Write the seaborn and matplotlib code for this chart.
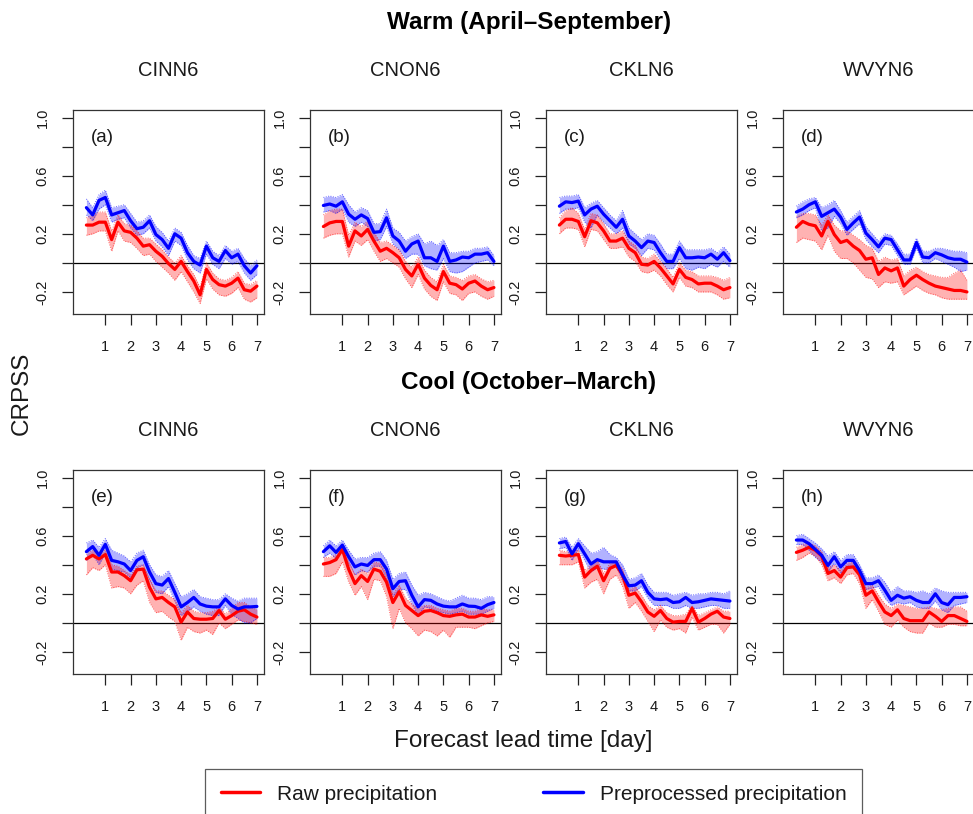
import numpy as np
import pandas as pd
import matplotlib
matplotlib.use("Agg")
import matplotlib.pyplot as plt
import seaborn as sns
from matplotlib.lines import Line2D

# ---------------- data ----------------
lead_days = [0.25 * (i + 1) for i in range(28)]
stations = ["CINN6", "CNON6", "CKLN6", "WVYN6"]
panel_labels = ["(a)", "(b)", "(c)", "(d)", "(e)", "(f)", "(g)", "(h)"]
season_titles = ["Warm (April\u2013September)", "Cool (October\u2013March)"]
series_names = ["Raw precipitation", "Preprocessed precipitation"]

# Warm season
raw_a = [0.26,0.26,0.28,0.28,0.16,0.28,0.22,0.21,0.17,0.115,0.125,0.08,0.045,-0.005,-0.045,0.01,-0.06,-0.125,-0.22,-0.045,-0.115,-0.15,-0.16,-0.14,-0.105,-0.185,-0.195,-0.16]
raw_a_hi = [0.31,0.33,0.35,0.35,0.22,0.33,0.27,0.26,0.22,0.17,0.17,0.13,0.09,0.04,0.00,0.05,-0.02,-0.08,-0.17,0.00,-0.07,-0.11,-0.12,-0.10,-0.06,-0.14,-0.15,-0.12]
raw_a_lo = [0.19,0.20,0.22,0.22,0.08,0.22,0.15,0.14,0.10,0.05,0.06,0.01,-0.03,-0.07,-0.12,-0.06,-0.13,-0.20,-0.28,-0.11,-0.18,-0.22,-0.23,-0.21,-0.17,-0.25,-0.27,-0.24]
pre_a = [0.38,0.33,0.43,0.45,0.33,0.345,0.36,0.29,0.235,0.245,0.29,0.195,0.16,0.10,0.20,0.17,0.07,0.01,-0.015,0.115,0.035,0.01,0.085,0.035,0.06,-0.02,-0.07,-0.02]
pre_a_hi = [0.44,0.38,0.47,0.50,0.38,0.39,0.40,0.34,0.28,0.29,0.33,0.25,0.21,0.15,0.24,0.21,0.12,0.05,0.03,0.15,0.08,0.05,0.12,0.08,0.10,0.03,-0.02,0.02]
pre_a_lo = [0.33,0.29,0.37,0.40,0.28,0.30,0.31,0.24,0.19,0.20,0.24,0.15,0.11,0.05,0.15,0.12,0.02,-0.04,-0.07,0.06,-0.01,-0.04,0.03,-0.01,0.01,-0.07,-0.12,-0.08]

raw_b = [0.25,0.275,0.285,0.285,0.115,0.22,0.185,0.23,0.15,0.08,0.10,0.07,0.035,-0.045,-0.09,-0.01,-0.105,-0.155,-0.185,-0.06,-0.14,-0.15,-0.18,-0.14,-0.125,-0.16,-0.185,-0.17]
raw_b_hi = [0.33,0.36,0.37,0.37,0.19,0.28,0.25,0.29,0.21,0.14,0.15,0.12,0.09,0.01,-0.03,0.04,-0.05,-0.10,-0.13,-0.01,-0.09,-0.10,-0.12,-0.09,-0.08,-0.11,-0.13,-0.12]
raw_b_lo = [0.17,0.19,0.20,0.20,0.04,0.15,0.12,0.16,0.08,0.01,0.03,0.00,-0.03,-0.11,-0.17,-0.08,-0.18,-0.23,-0.26,-0.13,-0.21,-0.22,-0.26,-0.21,-0.20,-0.23,-0.25,-0.23]
pre_b = [0.395,0.405,0.39,0.42,0.335,0.30,0.33,0.305,0.21,0.215,0.31,0.185,0.15,0.08,0.13,0.15,0.035,0.035,0.01,0.115,0.01,0.02,0.04,0.035,0.06,0.06,0.07,0.01]
pre_b_hi = [0.45,0.46,0.45,0.47,0.40,0.35,0.38,0.36,0.27,0.27,0.37,0.24,0.21,0.15,0.18,0.20,0.13,0.15,0.12,0.16,0.07,0.07,0.08,0.08,0.10,0.10,0.11,0.05]
pre_b_lo = [0.35,0.36,0.34,0.37,0.28,0.25,0.28,0.25,0.15,0.16,0.25,0.13,0.09,0.03,0.06,0.06,-0.02,-0.04,-0.05,0.03,-0.06,-0.07,-0.06,-0.03,0.00,0.01,0.02,-0.02]

raw_c = [0.26,0.30,0.30,0.285,0.18,0.29,0.275,0.22,0.15,0.15,0.17,0.10,0.07,-0.01,-0.015,0.01,-0.035,-0.09,-0.145,-0.045,-0.10,-0.115,-0.145,-0.14,-0.14,-0.16,-0.185,-0.17]
raw_c_hi = [0.31,0.36,0.38,0.34,0.23,0.34,0.33,0.27,0.20,0.20,0.22,0.15,0.12,0.04,0.03,0.06,0.01,-0.04,-0.10,0.00,-0.05,-0.06,-0.09,-0.09,-0.09,-0.10,-0.12,-0.10]
raw_c_lo = [0.20,0.24,0.24,0.23,0.11,0.23,0.22,0.16,0.10,0.10,0.11,0.04,0.01,-0.06,-0.07,-0.05,-0.09,-0.15,-0.20,-0.10,-0.16,-0.17,-0.20,-0.20,-0.20,-0.22,-0.25,-0.24]
pre_c = [0.39,0.42,0.415,0.425,0.33,0.37,0.39,0.335,0.29,0.245,0.30,0.185,0.15,0.105,0.15,0.14,0.07,0.01,0.01,0.105,0.035,0.035,0.04,0.035,0.06,0.025,0.07,0.015]
pre_c_hi = [0.45,0.46,0.46,0.47,0.38,0.41,0.43,0.38,0.33,0.29,0.36,0.24,0.20,0.16,0.20,0.19,0.13,0.06,0.06,0.15,0.09,0.09,0.09,0.09,0.10,0.07,0.11,0.06]
pre_c_lo = [0.34,0.37,0.37,0.38,0.28,0.24,0.33,0.28,0.24,0.20,0.24,0.13,0.10,0.05,0.10,0.09,0.02,-0.04,-0.04,0.03,-0.04,-0.05,-0.03,-0.04,-0.01,-0.03,0.01,-0.03]

raw_d = [0.245,0.285,0.265,0.255,0.185,0.285,0.195,0.14,0.155,0.115,0.085,0.025,0.035,-0.08,-0.035,-0.055,-0.035,-0.16,-0.115,-0.085,-0.115,-0.14,-0.16,-0.17,-0.18,-0.19,-0.19,-0.20]
raw_d_hi = [0.32,0.34,0.34,0.33,0.26,0.33,0.26,0.22,0.22,0.19,0.16,0.12,0.10,0.01,0.04,0.02,0.03,-0.09,-0.05,-0.03,-0.06,-0.08,-0.09,-0.10,-0.10,-0.07,-0.05,-0.12]
raw_d_lo = [0.14,0.17,0.16,0.15,0.09,0.19,0.08,0.03,0.03,0.00,-0.05,-0.10,-0.11,-0.17,-0.13,-0.14,-0.13,-0.22,-0.19,-0.16,-0.19,-0.21,-0.22,-0.24,-0.25,-0.25,-0.25,-0.25]
pre_d = [0.35,0.37,0.40,0.42,0.32,0.345,0.37,0.315,0.23,0.275,0.315,0.205,0.16,0.11,0.17,0.16,0.09,0.02,0.02,0.14,0.04,0.035,0.07,0.055,0.035,0.025,0.025,0.005]
pre_d_hi = [0.39,0.42,0.44,0.45,0.38,0.40,0.43,0.36,0.28,0.32,0.36,0.25,0.20,0.15,0.20,0.19,0.13,0.06,0.06,0.17,0.08,0.08,0.10,0.10,0.09,0.08,0.08,0.07]
pre_d_lo = [0.31,0.33,0.36,0.38,0.22,0.24,0.32,0.27,0.19,0.23,0.27,0.16,0.11,0.07,0.13,0.12,0.05,-0.01,-0.01,0.10,0.00,0.00,0.03,0.01,-0.01,-0.03,-0.06,-0.05]

# Cool season
raw_e = [0.44,0.465,0.44,0.47,0.35,0.35,0.325,0.29,0.365,0.37,0.245,0.165,0.175,0.14,0.11,0.005,0.075,0.03,0.025,0.025,0.03,0.085,0.025,0.05,0.08,0.09,0.06,0.04]
raw_e_hi = [0.47,0.50,0.47,0.50,0.40,0.39,0.36,0.33,0.39,0.40,0.30,0.22,0.22,0.19,0.16,0.07,0.12,0.08,0.07,0.07,0.08,0.11,0.06,0.10,0.14,0.14,0.11,0.09]
raw_e_lo = [0.33,0.38,0.36,0.40,0.24,0.25,0.24,0.20,0.26,0.29,0.14,0.07,0.08,0.04,0.01,-0.12,-0.03,-0.06,-0.07,-0.05,-0.08,0.00,-0.04,-0.01,0.02,0.01,0.00,-0.01]
pre_e = [0.49,0.525,0.465,0.54,0.43,0.42,0.405,0.36,0.43,0.455,0.35,0.27,0.26,0.305,0.21,0.11,0.14,0.175,0.13,0.115,0.11,0.11,0.165,0.12,0.095,0.11,0.11,0.113]
pre_e_hi = [0.55,0.57,0.52,0.58,0.50,0.48,0.46,0.42,0.48,0.50,0.40,0.33,0.32,0.36,0.27,0.18,0.20,0.23,0.18,0.17,0.16,0.16,0.20,0.17,0.15,0.17,0.17,0.17]
pre_e_lo = [0.43,0.47,0.40,0.48,0.37,0.36,0.35,0.31,0.38,0.40,0.29,0.21,0.20,0.25,0.15,0.05,0.08,0.11,0.08,0.06,0.05,0.05,0.12,0.06,0.03,0.00,0.00,0.03]

raw_f = [0.405,0.415,0.435,0.505,0.37,0.27,0.325,0.285,0.37,0.355,0.28,0.14,0.215,0.12,0.085,0.05,0.08,0.085,0.07,0.05,0.045,0.055,0.06,0.04,0.04,0.055,0.045,0.055]
raw_f_hi = [0.45,0.45,0.47,0.53,0.42,0.33,0.37,0.34,0.42,0.41,0.33,0.20,0.26,0.17,0.13,0.10,0.12,0.12,0.10,0.09,0.08,0.10,0.10,0.08,0.08,0.10,0.09,0.09]
raw_f_lo = [0.32,0.32,0.34,0.42,0.28,0.19,0.25,0.16,0.30,0.29,0.18,-0.04,0.10,0.00,-0.04,-0.09,-0.05,-0.06,-0.09,-0.05,-0.10,-0.03,-0.03,-0.03,-0.04,-0.02,0.00,0.01]
pre_f = [0.49,0.53,0.485,0.535,0.455,0.385,0.405,0.395,0.435,0.435,0.37,0.235,0.285,0.29,0.19,0.11,0.16,0.155,0.13,0.115,0.11,0.11,0.13,0.115,0.113,0.10,0.125,0.14]
pre_f_hi = [0.53,0.57,0.53,0.57,0.50,0.44,0.45,0.45,0.48,0.49,0.43,0.30,0.34,0.35,0.26,0.19,0.21,0.20,0.18,0.16,0.15,0.17,0.19,0.17,0.17,0.16,0.18,0.18]
pre_f_lo = [0.45,0.48,0.44,0.50,0.41,0.33,0.36,0.35,0.39,0.39,0.31,0.18,0.23,0.23,0.13,0.05,0.11,0.10,0.08,0.07,0.06,0.07,0.08,0.06,0.06,0.06,0.08,0.10]

raw_g = [0.465,0.46,0.465,0.47,0.315,0.36,0.39,0.29,0.375,0.395,0.33,0.19,0.205,0.145,0.075,0.045,0.085,0.03,0.005,0.01,0.01,0.10,0.005,0.03,0.06,0.08,0.04,0.03]
raw_g_hi = [0.50,0.49,0.49,0.50,0.36,0.40,0.43,0.34,0.41,0.42,0.37,0.23,0.25,0.19,0.12,0.09,0.12,0.07,0.05,0.05,0.06,0.12,0.05,0.07,0.09,0.11,0.08,0.08]
raw_g_lo = [0.40,0.40,0.40,0.42,0.24,0.28,0.30,0.20,0.30,0.33,0.25,0.10,0.14,0.08,0.01,-0.06,0.02,-0.03,-0.05,-0.04,-0.07,0.04,-0.05,-0.03,-0.01,-0.01,-0.07,-0.01]
pre_g = [0.55,0.56,0.475,0.545,0.475,0.405,0.435,0.42,0.42,0.42,0.33,0.255,0.26,0.29,0.21,0.165,0.16,0.165,0.14,0.145,0.175,0.14,0.145,0.155,0.165,0.16,0.155,0.15]
pre_g_hi = [0.58,0.59,0.52,0.58,0.53,0.48,0.49,0.52,0.47,0.45,0.40,0.30,0.31,0.34,0.26,0.21,0.21,0.21,0.19,0.20,0.21,0.19,0.20,0.20,0.21,0.21,0.20,0.22]
pre_g_lo = [0.51,0.52,0.43,0.51,0.43,0.35,0.38,0.37,0.37,0.39,0.29,0.22,0.22,0.25,0.17,0.12,0.12,0.12,0.10,0.10,0.12,0.10,0.10,0.11,0.12,0.12,0.10,0.10]

raw_h = [0.485,0.50,0.52,0.50,0.46,0.34,0.36,0.315,0.38,0.385,0.33,0.19,0.22,0.145,0.075,0.05,0.09,0.03,0.015,0.015,0.015,0.075,0.045,0.01,0.05,0.05,0.03,0.01]
raw_h_hi = [0.52,0.54,0.55,0.53,0.49,0.38,0.40,0.36,0.41,0.42,0.37,0.24,0.26,0.19,0.13,0.10,0.13,0.12,0.11,0.10,0.10,0.11,0.10,0.09,0.10,0.11,0.11,0.08]
raw_h_lo = [0.43,0.45,0.48,0.46,0.40,0.29,0.31,0.27,0.33,0.34,0.27,0.10,0.16,0.08,-0.01,-0.03,0.02,-0.03,-0.06,-0.07,-0.07,0.00,-0.03,-0.03,-0.01,-0.01,-0.02,-0.02]
pre_h = [0.57,0.57,0.545,0.505,0.465,0.395,0.455,0.385,0.43,0.43,0.36,0.27,0.27,0.29,0.225,0.155,0.19,0.17,0.18,0.155,0.14,0.14,0.20,0.14,0.125,0.175,0.175,0.18]
pre_h_hi = [0.60,0.61,0.58,0.55,0.51,0.46,0.49,0.43,0.47,0.47,0.40,0.31,0.31,0.33,0.28,0.21,0.25,0.22,0.22,0.21,0.22,0.20,0.24,0.22,0.21,0.21,0.21,0.21]
pre_h_lo = [0.54,0.54,0.50,0.45,0.42,0.35,0.41,0.34,0.39,0.39,0.32,0.23,0.24,0.25,0.17,0.12,0.14,0.13,0.14,0.11,0.10,0.10,0.15,0.09,0.07,0.12,0.13,0.14]

panels = [
    (raw_a, raw_a_lo, raw_a_hi, pre_a, pre_a_lo, pre_a_hi),
    (raw_b, raw_b_lo, raw_b_hi, pre_b, pre_b_lo, pre_b_hi),
    (raw_c, raw_c_lo, raw_c_hi, pre_c, pre_c_lo, pre_c_hi),
    (raw_d, raw_d_lo, raw_d_hi, pre_d, pre_d_lo, pre_d_hi),
    (raw_e, raw_e_lo, raw_e_hi, pre_e, pre_e_lo, pre_e_hi),
    (raw_f, raw_f_lo, raw_f_hi, pre_f, pre_f_lo, pre_f_hi),
    (raw_g, raw_g_lo, raw_g_hi, pre_g, pre_g_lo, pre_g_hi),
    (raw_h, raw_h_lo, raw_h_hi, pre_h, pre_h_lo, pre_h_hi),
]

# ---------------- style ----------------
sns.set_style("ticks")
plt.rcParams["font.family"] = ["Liberation Sans", "DejaVu Sans"]

W, H = 973, 814
fig = plt.figure(figsize=(W / 100, H / 100), dpi=100)

lefts_px = [73, 310, 546, 783]
width_px = 191
rows_px = [(110, 314), (470, 674)]

palette = {series_names[0]: "#FF0000", series_names[1]: "#0000FF"}
band_col = {series_names[0]: "#FF0000", series_names[1]: "#0000FF"}
txt_col = "#1a1a1a"

for p in range(8):
    r, c = divmod(p, 4)
    top, bot = rows_px[r]
    ax = fig.add_axes([lefts_px[c] / W, 1 - bot / H, width_px / W, (bot - top) / H])
    raw, raw_lo, raw_hi, pre, pre_lo, pre_hi = panels[p]
    df = pd.DataFrame({
        "lead": lead_days * 2,
        "crpss": raw + pre,
        "lo": raw_lo + pre_lo,
        "hi": raw_hi + pre_hi,
        "series": [series_names[0]] * 28 + [series_names[1]] * 28,
    })
    ax.axhline(0, color="black", lw=0.9, zorder=1)
    for name in series_names[::-1]:
        sub = df[df["series"] == name]
        ax.fill_between(sub["lead"], sub["lo"], sub["hi"], color=band_col[name],
                        alpha=0.3, lw=0, zorder=2)
        for col in ["lo", "hi"]:
            sns.lineplot(x=sub["lead"].values, y=sub[col].values, ax=ax,
                         color=band_col[name], lw=0.7, ls=(0, (1, 1.5)),
                         alpha=0.6, zorder=3)
    sns.lineplot(data=df, x="lead", y="crpss", hue="series", palette=palette,
                 hue_order=series_names, ax=ax, lw=2.3, legend=False, zorder=4)
    ax.set_xlim(-0.28, 7.28)
    ax.set_ylim(-0.352, 1.052)
    ax.set_xticks(range(1, 8))
    ax.set_xticklabels([str(i) for i in range(1, 8)])
    ax.set_yticks([-0.2, 0.0, 0.2, 0.4, 0.6, 0.8, 1.0])
    ax.set_yticklabels(["-0.2", "", "0.2", "", "0.6", "", "1.0"], rotation=90, va="center")
    ax.tick_params(axis="both", direction="out", length=8, width=0.9, labelsize=10.5,
                   color="#222222", labelcolor=txt_col)
    ax.tick_params(axis="y", pad=9)
    ax.tick_params(axis="x", pad=11)
    for s in ax.spines.values():
        s.set_visible(True)
        s.set_linewidth(0.9)
        s.set_color("#333333")
    ax.set_xlabel("")
    ax.set_ylabel("")
    ax.text(0.42, 0.865, panel_labels[p], fontsize=13.5, ha="left", va="center",
            color=txt_col)
    # station name
    fig.text((lefts_px[c] + width_px / 2) / W, 1 - (top - 39) / H, stations[c],
             ha="center", va="center", fontsize=14.5, color=txt_col)

fig.text(529 / W, 1 - 23 / H, season_titles[0], ha="center", va="center",
         fontsize=17.5, fontweight="bold", color="black")
fig.text(529 / W, 1 - 383 / H, season_titles[1], ha="center", va="center",
         fontsize=17.5, fontweight="bold", color="black")
fig.text(22 / W, 1 - 393 / H, "CRPSS", rotation=90, ha="center", va="center",
         fontsize=17.5, color=txt_col)
fig.text(523 / W, 1 - 741 / H, "Forecast lead time [day]", ha="center", va="center",
         fontsize=17.5, color=txt_col)

handles = [Line2D([0], [0], color=palette[n], lw=2.5) for n in series_names]
leg = fig.legend(handles, series_names, loc="upper left", ncol=2, mode="expand",
                 bbox_to_anchor=(205 / W, 1 - 769 / H, (862 - 205) / W, 0),
                 frameon=True, fancybox=False, edgecolor="#333333", fontsize=15,
                 handlelength=1.9, handletextpad=0.8, borderaxespad=0, borderpad=0.75)
leg.get_frame().set_linewidth(0.9)
for t in leg.get_texts():
    t.set_color(txt_col)

fig.savefig("out.png", dpi=100)
